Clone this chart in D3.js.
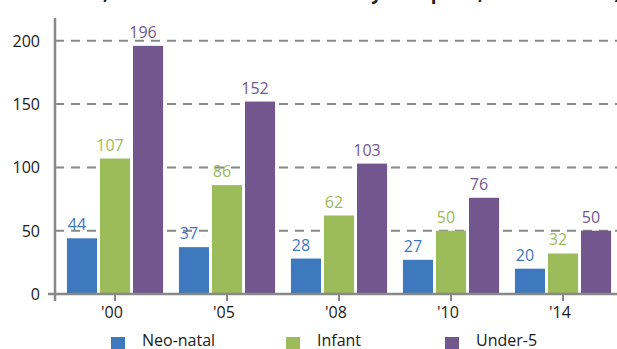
<!DOCTYPE html>
<html>
<head>
<meta charset="utf-8">
<script src="https://d3js.org/d3.v7.min.js"></script>
<style>
  body { margin: 0; background: #fff; }
  svg { display: block; font-family: "Open Sans", sans-serif; }
</style>
</head>
<body>
<div id="chart"></div>
<script>
// data
const years = ["'00", "'05", "'08", "'10", "'14"];
const seriesNames = ["Neo-natal", "Infant", "Under-5"];
const neoNatal = [44, 37, 28, 27, 20];
const infant = [107, 86, 62, 50, 32];
const underFive = [196, 152, 103, 76, 50];
const yTicks = [0, 50, 100, 150, 200];
const title = "Neo-natal, infant and under-5 mortality rate per 1,000 live births,";

const colors = ["#3e78bd", "#9cbb59", "#72578f"];
const values = [neoNatal, infant, underFive];

const W = 617, H = 349;
const svg = d3.select("#chart").append("svg")
    .attr("width", W)
    .attr("height", H);

// titulo, cortado por arriba como en el original
svg.append("text")
    .attr("x", 10)
    .attr("y", -1.5)
    .style("font-size", "18.8px")
    .style("font-weight", "bold")
    .style("fill", "#222")
    .text(title);

const y = d3.scaleLinear().domain([0, 218]).range([294, 18]);
const x0 = d3.scaleBand().domain(years).range([59, 619]);
const x1 = d3.scaleBand().domain(seriesNames)
    .range([0, x0.bandwidth()])
    .paddingInner(0.09)
    .paddingOuter(0.24);

// grid
svg.append("g").selectAll("line")
    .data(yTicks.filter(d => d > 0))
    .enter().append("line")
    .attr("x1", 55).attr("x2", W)
    .attr("y1", d => y(d)).attr("y2", d => y(d))
    .style("stroke", "#888")
    .style("stroke-width", 2)
    .style("stroke-dasharray", "9,7");

// barras
years.forEach((yr, i) => {
    const g = svg.append("g").attr("transform", `translate(${x0(yr)},0)`);
    seriesNames.forEach((s, j) => {
        const v = values[j][i];
        g.append("rect")
            .attr("x", x1(s))
            .attr("y", y(v))
            .attr("width", x1.bandwidth())
            .attr("height", y(0) - y(v))
            .style("fill", colors[j]);
        g.append("text")
            .attr("x", x1(s) + 10)
            .attr("y", y(v) - 8)
            .attr("text-anchor", "middle")
            .style("font-size", "16px")
            .style("fill", colors[j])
            .text(v);
    });
});

// ejes
const axisColor = "#888";
svg.append("line")
    .attr("x1", 55).attr("x2", 55)
    .attr("y1", y.range()[1]).attr("y2", 301)
    .style("stroke", axisColor).style("stroke-width", 2.5);
svg.append("line")
    .attr("x1", 48).attr("x2", W)
    .attr("y1", y(0)).attr("y2", y(0))
    .style("stroke", axisColor).style("stroke-width", 2.5);

svg.append("g").selectAll("text")
    .data(yTicks)
    .enter().append("text")
    .attr("x", 40)
    .attr("y", d => y(d) + 6)
    .attr("text-anchor", "end")
    .style("font-size", "16px")
    .style("fill", "#1a1a1a")
    .text(d => d);

const xt = svg.append("g").selectAll("g")
    .data(years)
    .enter().append("g")
    .attr("transform", d => `translate(${x0(d) + x0.bandwidth() / 2},0)`);
xt.append("line")
    .attr("y1", y(0)).attr("y2", 301)
    .style("stroke", axisColor).style("stroke-width", 2);
xt.append("text")
    .attr("x", -3)
    .attr("y", 318)
    .attr("text-anchor", "middle")
    .style("font-size", "16px")
    .style("fill", "#1a1a1a")
    .text(d => d);

// leyenda
const legendX = [111, 286, 445];
const lg = svg.append("g").selectAll("g")
    .data(seriesNames)
    .enter().append("g")
    .attr("transform", (d, i) => `translate(${legendX[i]},337)`);
lg.append("rect")
    .attr("width", 14).attr("height", 14)
    .style("fill", (d, i) => colors[i]);
lg.append("text")
    .attr("x", 31)
    .attr("y", 9)
    .style("font-size", "16px")
    .style("fill", "#1a1a1a")
    .text(d => d);
</script>
</body>
</html>
